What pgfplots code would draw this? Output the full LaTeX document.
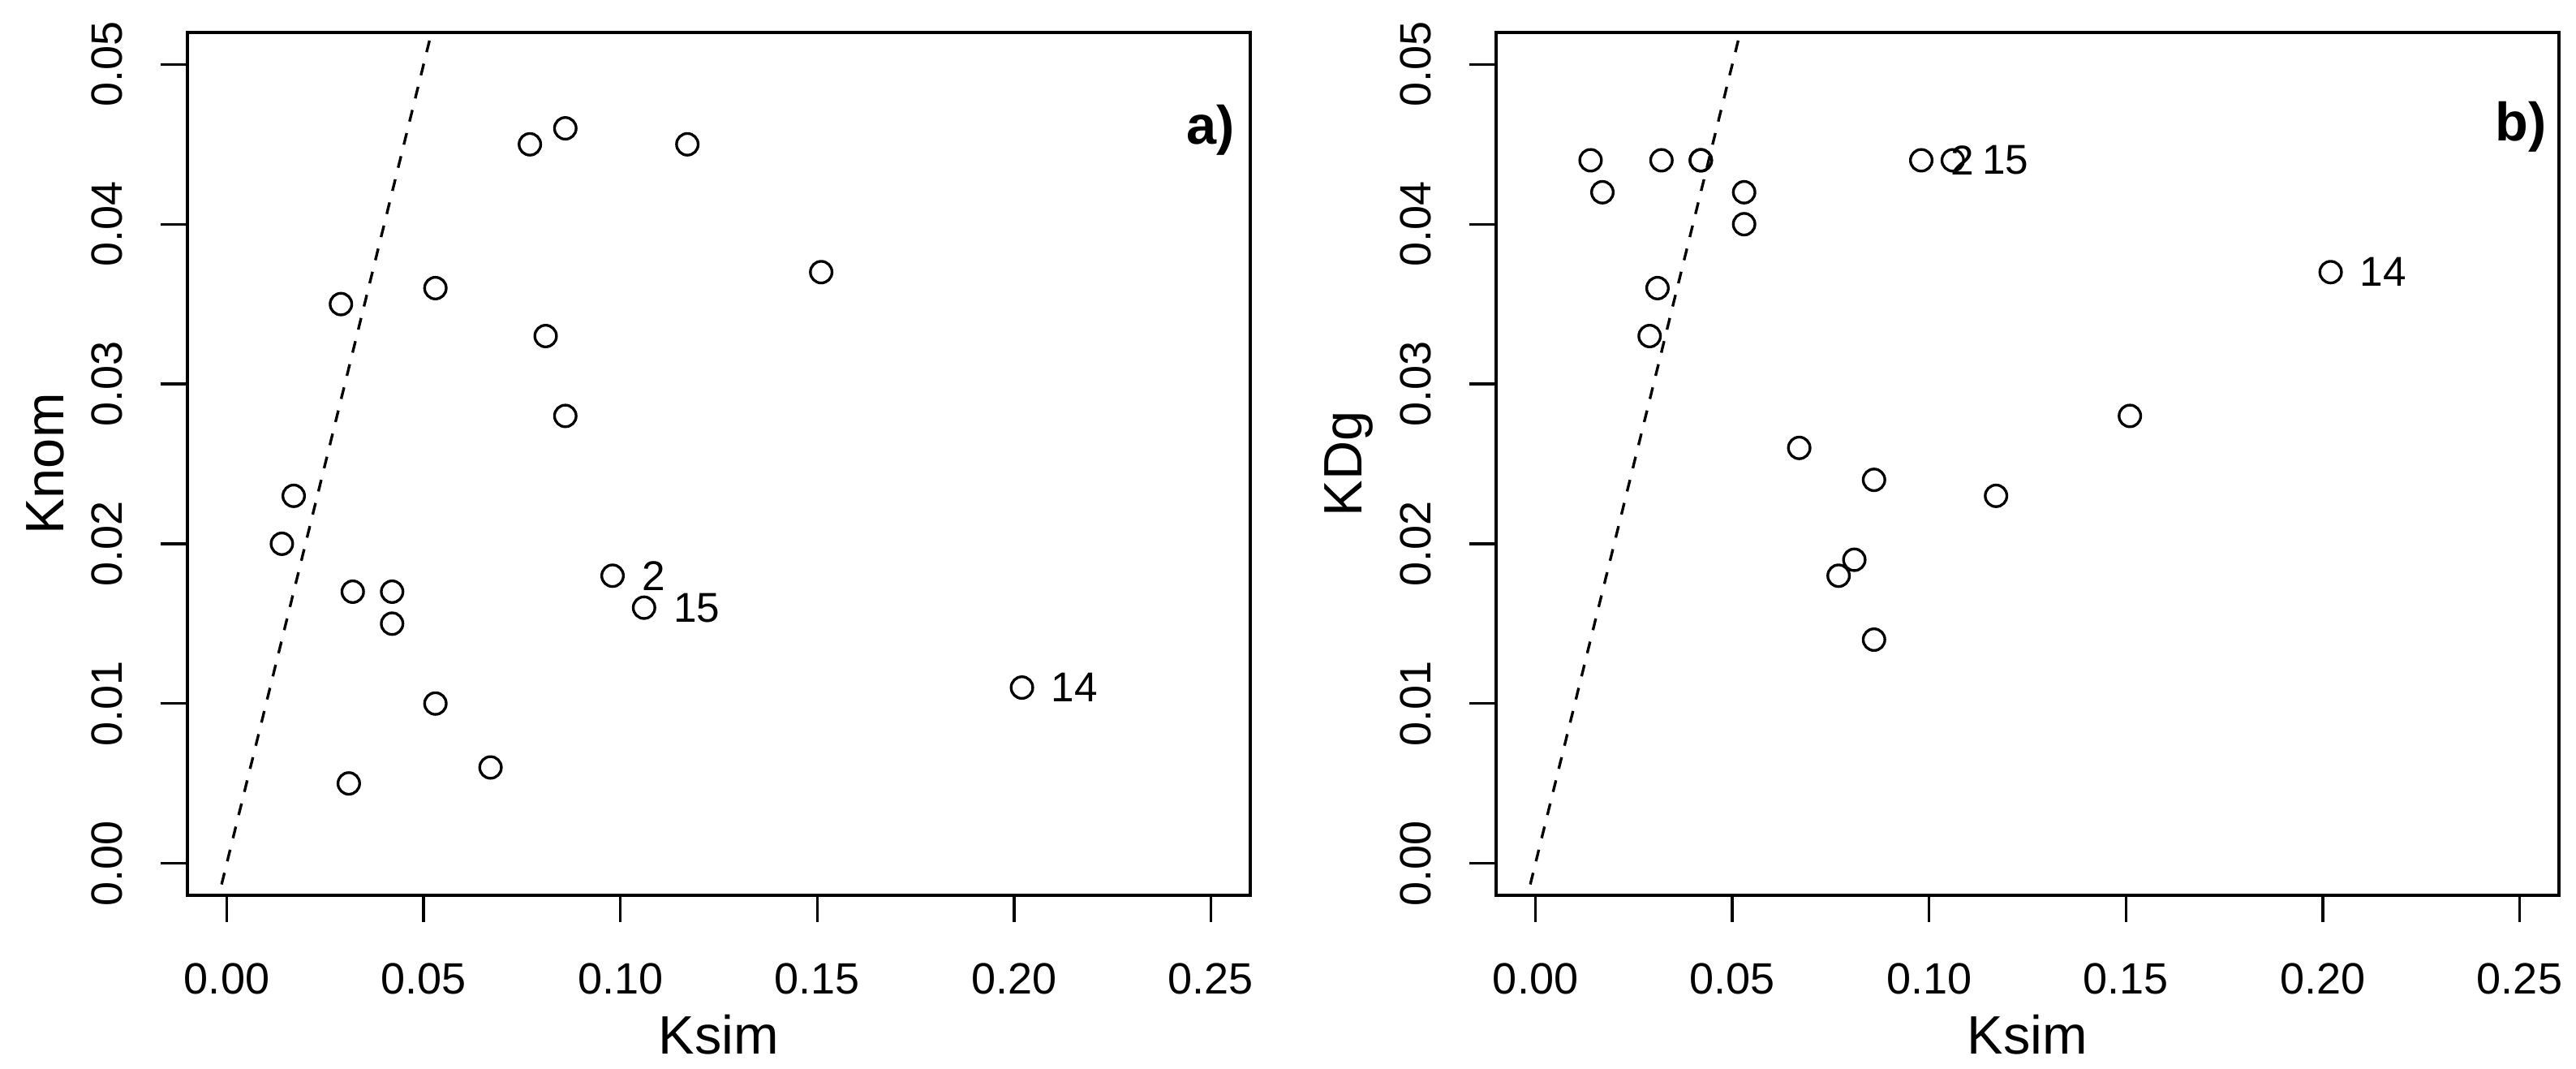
\documentclass[border=0pt]{standalone}
\usepackage{pgfplots}
\pgfplotsset{compat=1.18}
\usepackage{fontspec}
\setmainfont{Liberation Sans}
\pgfplotsset{
  rstyle/.style={
    scale only axis, width=196.5pt, height=159.45pt,
    xmin=-0.01, xmax=0.26, ymin=-0.002, ymax=0.052,
    axis line style={line width=0.5pt},
    tick style={line width=0.5pt, black},
    tick align=outside, major tick length=5pt,
    xtick={0,0.05,0.10,0.15,0.20,0.25},
    ytick={0,0.01,0.02,0.03,0.04,0.05},
    xtick pos=bottom, ytick pos=left,
    scaled ticks=false,
    /pgf/number format/assume math mode=true,
    xticklabel={\pgfmathprintnumber[fixed,fixed zerofill,precision=2]{\tick}},
    yticklabel={\pgfmathprintnumber[fixed,fixed zerofill,precision=2]{\tick}},
    ticklabel style={font=\fontsize{8.1}{9}\selectfont},
    xticklabel style={yshift=-4pt},
    yticklabel style={rotate=90, anchor=south, xshift=0pt, yshift=3.5pt},
    label style={font=\fontsize{10}{12}\selectfont},
    xlabel style={yshift=3pt},
    ylabel style={yshift=-1.9pt},
    clip mode=individual,
  },
  pts/.style={only marks, mark=o, mark size=2pt, mark options={line width=0.5pt, black}, black},
  lbl/.style={pts, nodes near coords, point meta=explicit symbolic,
    every node near coord/.append style={anchor=west, xshift=5.2pt, yshift=0pt, font=\fontsize{7.7}{9}\selectfont, inner sep=0pt}},
  ref/.style={black, line width=0.5pt, dash pattern=on 2.2pt off 2.2pt},
}
\begin{document}%
\begin{tikzpicture}
\begin{axis}[rstyle, at={(34.65pt,32.1pt)}, anchor=south west, xlabel={Ksim}, ylabel={Knom}]
\addplot[ref] coordinates {(-0.01,-0.01) (0.06,0.06)};
\addplot[pts] coordinates {
(0.077,0.045) (0.086,0.046) (0.117,0.045) (0.151,0.037) (0.029,0.035)
(0.053,0.036) (0.081,0.033) (0.086,0.028) (0.017,0.023) (0.014,0.020)
(0.032,0.017) (0.042,0.017) (0.042,0.015) (0.053,0.010) (0.067,0.006)
(0.031,0.005)};
\addplot[lbl] coordinates {(0.098,0.018) [2] (0.106,0.016) [15] (0.202,0.011) [14]};
\node[anchor=east, font=\bfseries\fontsize{10}{12}\selectfont, inner sep=0pt] at (rel axis cs:0.986,0.887) {a)};
\end{axis}
\begin{axis}[rstyle, at={(276.6pt,32.1pt)}, anchor=south west, xlabel={Ksim}, ylabel={KDg}]
\addplot[ref] coordinates {(-0.01,-0.01) (0.06,0.06)};
\addplot[pts] coordinates {
(0.014,0.044) (0.017,0.042) (0.032,0.044) (0.042,0.044) (0.042,0.044)
(0.053,0.042) (0.053,0.040) (0.031,0.036) (0.029,0.033) (0.151,0.028)
(0.067,0.026) (0.086,0.024) (0.117,0.023) (0.081,0.019) (0.077,0.018)
(0.086,0.014)};
\addplot[lbl] coordinates {(0.098,0.044) [2] (0.106,0.044) [15] (0.202,0.037) [14]};
\node[anchor=east, font=\bfseries\fontsize{10}{12}\selectfont, inner sep=0pt] at (rel axis cs:0.989,0.891) {b)};
\end{axis}
\pgfresetboundingbox
\path[use as bounding box] (0,0) rectangle (476.25pt,197.55pt);
\end{tikzpicture}%
\end{document}
